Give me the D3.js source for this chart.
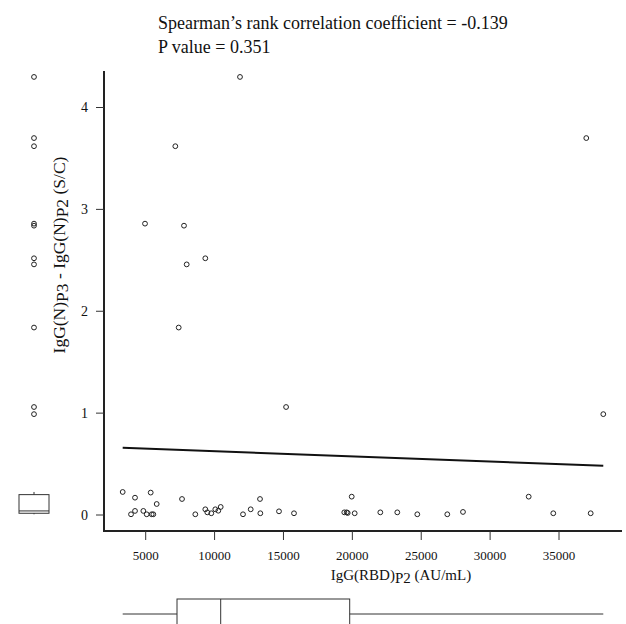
<!DOCTYPE html>
<html>
<head>
<meta charset="utf-8">
<script src="https://cdn.jsdelivr.net/npm/d3@7"></script>
<style>
  body { margin: 0; background: #fff; }
  svg text { font-family: 'Liberation Serif', 'Times New Roman', serif; fill: #111; }
</style>
</head>
<body>
<div id="chart"></div>
<script>
// IgG(RBD) at P2 (AU/mL)
const rbdP2 = [
  11845, 7150, 4950, 7780, 9327, 7975, 7395, 36980, 38215, 15190,
  3330, 4224, 5363, 5798, 3934, 4224, 4829, 5073, 5436, 5553,
  7636, 8601, 9327, 9472, 9762, 10053, 10270, 10444, 12063, 12622,
  13297, 13320, 14676, 15765, 19415, 19590, 19662, 19953, 20170,
  22030, 23262, 24714, 26891, 28031, 32800, 34585, 37300,
];
// IgG(N)P3 - IgG(N)P2 (S/C)
const nDiff = [
  4.30, 3.62, 2.86, 2.84, 2.52, 2.46, 1.84, 3.70, 0.99, 1.06,
  0.226, 0.17, 0.22, 0.108, 0.007, 0.04, 0.04, 0.007, 0.007, 0.007,
  0.157, 0.007, 0.056, 0.026, 0.017, 0.056, 0.042, 0.079, 0.007, 0.056,
  0.157, 0.017, 0.036, 0.017, 0.026, 0.026, 0.02, 0.18, 0.017,
  0.026, 0.026, 0.007, 0.007, 0.03, 0.18, 0.017, 0.017,
];
const xTicks = [5000, 10000, 15000, 20000, 25000, 30000, 35000];
const yTicks = [0, 1, 2, 3, 4];
const titleLines = [
  'Spearman\u2019s rank correlation coefficient = -0.139',
  'P value = 0.351',
];

const width = 626;
const height = 624;

const svg = d3.select('#chart').append('svg')
  .attr('width', width)
  .attr('height', height);

const x = d3.scaleLinear().domain([5000, 35000]).range([145.7, 559]);
const y = d3.scaleLinear().domain([0, 4]).range([515, 107.5]);

const plot = { left: 104, right: 622, top: 71, bottom: 531 };

// R style fivenum + whiskers
function boxStats(values) {
  const s = values.slice().sort(d3.ascending);
  const n = s.length;
  const n4 = Math.floor((n + 3) / 2) / 2;
  const d = [1, n4, (n + 1) / 2, n + 1 - n4, n];
  const five = d.map(p => 0.5 * (s[Math.floor(p - 1)] + s[Math.ceil(p - 1)]));
  const iqr = five[3] - five[1];
  const lo = five[1] - 1.5 * iqr;
  const hi = five[3] + 1.5 * iqr;
  const inside = s.filter(v => v >= lo && v <= hi);
  return {
    q1: five[1],
    med: five[2],
    q3: five[3],
    wLo: d3.min(inside),
    wHi: d3.max(inside),
    out: s.filter(v => v < lo || v > hi),
  };
}

// title
svg.append('g').selectAll('text')
  .data(titleLines)
  .enter().append('text')
  .attr('x', 158)
  .attr('y', (d, i) => 29 + i * 24)
  .attr('font-size', 18)
  .text(d => d);

// axes frame (L shape)
svg.append('path')
  .attr('d', `M${plot.left},${plot.top}V${plot.bottom}H${plot.right}`)
  .attr('fill', 'none')
  .attr('stroke', '#222')
  .attr('stroke-width', 2);

const xAxis = svg.append('g').attr('transform', `translate(0,${plot.bottom})`);
xAxis.selectAll('line')
  .data(xTicks)
  .enter().append('line')
  .attr('x1', d => x(d))
  .attr('x2', d => x(d))
  .attr('y1', 0)
  .attr('y2', 9)
  .attr('stroke', '#333');
xAxis.selectAll('text')
  .data(xTicks)
  .enter().append('text')
  .attr('x', d => x(d))
  .attr('y', 29)
  .attr('text-anchor', 'middle')
  .attr('font-size', 13)
  .text(d => d);

const yAxis = svg.append('g').attr('transform', `translate(${plot.left},0)`);
yAxis.selectAll('line')
  .data(yTicks)
  .enter().append('line')
  .attr('x1', -8)
  .attr('x2', 0)
  .attr('y1', d => y(d))
  .attr('y2', d => y(d))
  .attr('stroke', '#333');
yAxis.selectAll('text')
  .data(yTicks)
  .enter().append('text')
  .attr('x', -16)
  .attr('y', d => y(d))
  .attr('dy', '0.35em')
  .attr('text-anchor', 'end')
  .attr('font-size', 14)
  .text(d => d);

// axis titles with lowered P-subscripts
const xTitle = svg.append('text')
  .attr('x', 401)
  .attr('y', 580)
  .attr('text-anchor', 'middle')
  .attr('font-size', 15);
xTitle.append('tspan').text('IgG(RBD)');
xTitle.append('tspan').attr('dy', 3).text('P2');
xTitle.append('tspan').attr('dy', -3).text(' (AU/mL)');

const yTitle = svg.append('text')
  .attr('transform', 'translate(65,255) rotate(-90)')
  .attr('text-anchor', 'middle')
  .attr('font-size', 17.5);
yTitle.append('tspan').text('IgG(N)');
yTitle.append('tspan').attr('dy', 3).text('P3');
yTitle.append('tspan').attr('dy', -3).text(' - IgG(N)');
yTitle.append('tspan').attr('dy', 3).text('P2');
yTitle.append('tspan').attr('dy', -3).text(' (S/C)');

// least squares fit line
const mx = d3.mean(rbdP2);
const my = d3.mean(nDiff);
const sxy = d3.sum(rbdP2, (v, i) => (v - mx) * (nDiff[i] - my));
const sxx = d3.sum(rbdP2, v => (v - mx) * (v - mx));
const slope = sxy / sxx;
const intercept = my - slope * mx;
const xExt = d3.extent(rbdP2);

svg.append('path')
  .datum(xExt)
  .attr('d', d3.line().x(d => x(d)).y(d => y(intercept + slope * d)))
  .attr('stroke', '#111')
  .attr('stroke-width', 2)
  .attr('fill', 'none');

// scatter points
svg.append('g').selectAll('circle')
  .data(rbdP2.map((v, i) => [v, nDiff[i]]))
  .enter().append('circle')
  .attr('cx', d => x(d[0]))
  .attr('cy', d => y(d[1]))
  .attr('r', 2.4)
  .attr('fill', 'none')
  .attr('stroke', '#222')
  .attr('stroke-width', 1);

// marginal boxplot for y (left)
const by = boxStats(nDiff);
const bx0 = 34;
const bw = 15;
const left = svg.append('g').attr('stroke', '#333').attr('fill', 'none');
left.append('rect')
  .attr('x', bx0 - bw)
  .attr('y', y(by.q3))
  .attr('width', bw * 2)
  .attr('height', y(by.q1) - y(by.q3));
left.append('line')
  .attr('x1', bx0 - bw).attr('x2', bx0 + bw)
  .attr('y1', y(by.med)).attr('y2', y(by.med));
left.append('line')
  .attr('x1', bx0).attr('x2', bx0)
  .attr('y1', y(by.q3)).attr('y2', y(by.wHi));
left.append('line')
  .attr('x1', bx0).attr('x2', bx0)
  .attr('y1', y(by.q1)).attr('y2', y(by.wLo));
left.selectAll('circle')
  .data(by.out)
  .enter().append('circle')
  .attr('cx', bx0)
  .attr('cy', d => y(d))
  .attr('r', 2.4)
  .attr('stroke', '#222');

// marginal boxplot for x (bottom)
const bxs = boxStats(rbdP2);
const by0 = 614;
const bottom = svg.append('g').attr('stroke', '#333').attr('fill', 'none');
bottom.append('rect')
  .attr('x', x(bxs.q1))
  .attr('y', by0 - bw)
  .attr('width', x(bxs.q3) - x(bxs.q1))
  .attr('height', bw * 2);
bottom.append('line')
  .attr('x1', x(bxs.med)).attr('x2', x(bxs.med))
  .attr('y1', by0 - bw).attr('y2', by0 + bw);
bottom.append('line')
  .attr('x1', x(bxs.wLo)).attr('x2', x(bxs.q1))
  .attr('y1', by0).attr('y2', by0);
bottom.append('line')
  .attr('x1', x(bxs.q3)).attr('x2', x(bxs.wHi))
  .attr('y1', by0).attr('y2', by0);
</script>
</body>
</html>
